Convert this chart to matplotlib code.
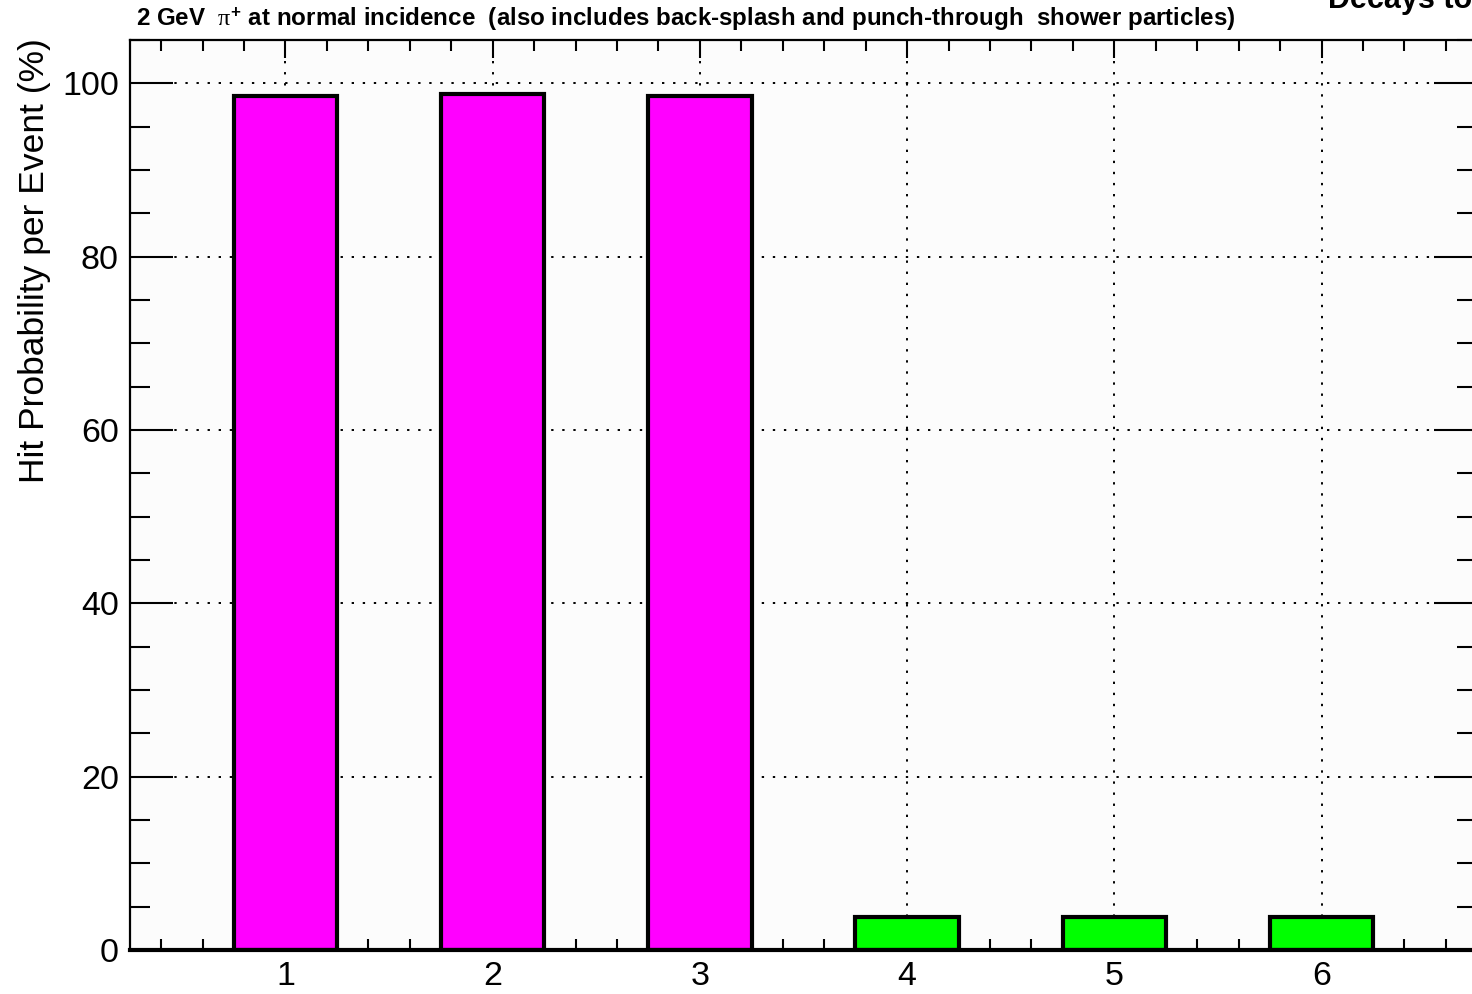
import numpy as np
import matplotlib
matplotlib.use("Agg")
import matplotlib.pyplot as plt
from matplotlib.ticker import MultipleLocator

# datos
canales = [1, 2, 3, 4, 5, 6]
prob_hit = [98.5, 98.8, 98.5, 3.8, 3.8, 3.8]
colores = ["#ff00ff", "#ff00ff", "#ff00ff", "#00ff00", "#00ff00", "#00ff00"]
titulo = "2 GeV  $\\pi^{+}$ at normal incidence  (also includes back-splash and punch-through  shower particles)"
titulo2 = "Decays to"
ylabel = "Hit Probability per Event (%)"

plt.rcParams["font.family"] = ["Liberation Sans", "DejaVu Sans"]
plt.rcParams["mathtext.fontset"] = "custom"
plt.rcParams["mathtext.rm"] = "Liberation Sans:bold"
plt.rcParams["mathtext.it"] = "Liberation Serif"
plt.rcParams["mathtext.bf"] = "Liberation Sans:bold"

fig = plt.figure(figsize=(14.72, 9.94), dpi=100)
ax = fig.add_axes([130 / 1472, 1 - 950 / 994, 1347 / 1472, 910 / 994])
ax.set_facecolor("#fcfcfc")

ax.bar(canales, prob_hit, width=0.5, color=colores, edgecolor="black", linewidth=3, zorder=3)

ax.set_xlim(0.25, 6.75)
ax.set_ylim(0, 105)
ax.xaxis.set_major_locator(MultipleLocator(1))
ax.xaxis.set_minor_locator(MultipleLocator(0.2))
ax.yaxis.set_major_locator(MultipleLocator(20))
ax.yaxis.set_minor_locator(MultipleLocator(5))

# grilla punteada
ax.grid(True, which="major", color="black", linestyle=(0, (1.2, 4.5)), linewidth=1.4, zorder=1)

ax.tick_params(axis="x", which="major", direction="in", top=True, length=13, width=1.5,
               labelsize=24.5, pad=8)
ax.tick_params(axis="x", which="minor", direction="in", top=True, length=8, width=1.5)
ax.tick_params(axis="y", which="major", direction="in", right=True, length=31, width=1.5,
               labelsize=24.5, pad=8)
ax.tick_params(axis="y", which="minor", direction="in", right=True, length=14.5, width=1.5)

for s in ax.spines.values():
    s.set_linewidth(1.6)
ax.spines["bottom"].set_linewidth(3)
ax.spines["bottom"].set_zorder(4)

ax.set_ylabel(ylabel, fontsize=25.5, labelpad=8)
ax.yaxis.label.set_position((0, 1.002))
ax.yaxis.label.set_horizontalalignment("right")

fig.text(136 / 1472, 1 - 18 / 994, titulo, fontsize=17.4, fontweight="bold", va="center", ha="left")
fig.text(1328 / 1472, 1 - 8 / 994, titulo2, fontsize=22, fontweight="bold", va="baseline", ha="left")

plt.savefig("out.png", dpi=100)
